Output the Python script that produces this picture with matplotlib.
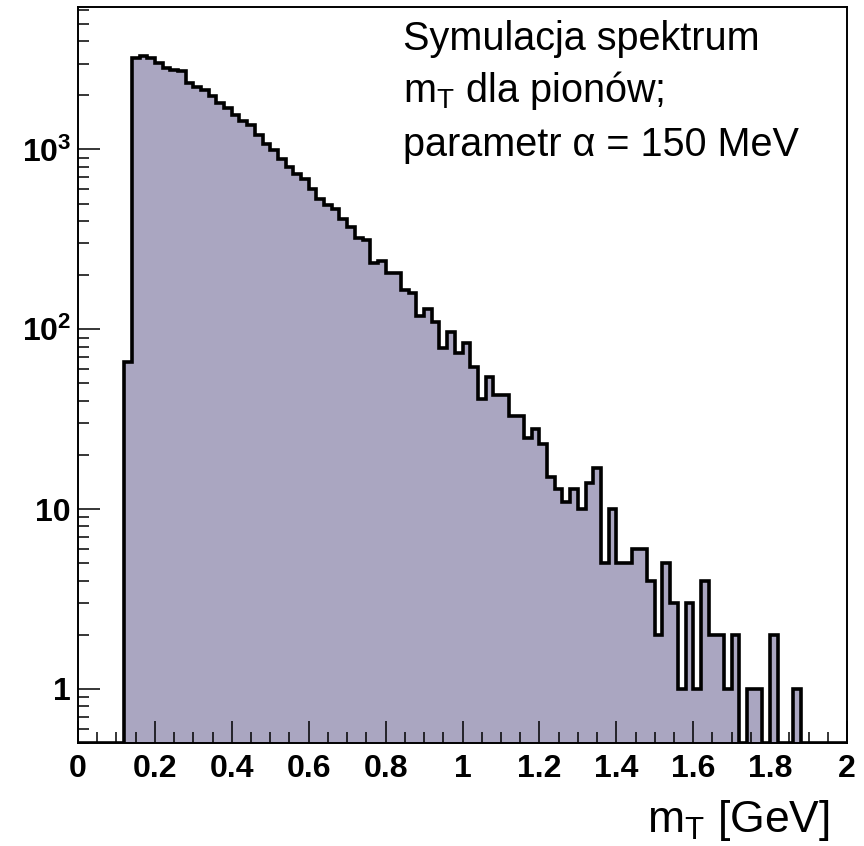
import numpy as np
import matplotlib
matplotlib.use("Agg")
import matplotlib.pyplot as plt
from matplotlib import font_manager
from matplotlib.ticker import FixedLocator, MultipleLocator, LogLocator, NullFormatter, FixedFormatter

# ---- data -------------------------------------------------------------
x_min, x_max, n_bins = 0.0, 2.0, 100
counts = [0, 0, 0, 0, 0, 0,
          66, 3230, 3300, 3230, 3030, 2850, 2780, 2720, 2350, 2230,
          2150, 1980, 1820, 1700, 1560, 1440, 1360, 1200, 1067, 994,
          889, 800, 726, 681, 599, 533, 490, 469, 413, 371,
          323, 313, 235, 239, 206, 206, 165, 160, 119, 129,
          110, 79, 96, 74, 84, 62, 41, 54, 43, 43,
          33, 33, 25, 28, 23, 15, 13, 11, 13, 10,
          14, 17, 5, 10, 5, 5, 6, 6, 4, 2,
          5, 3, 1, 3, 1, 4, 2, 2, 1, 2,
          0, 1, 1, 0, 2, 0, 0, 1,
          0, 0, 0, 0, 0, 0]
x_tick_values = [0, 0.2, 0.4, 0.6, 0.8, 1.0, 1.2, 1.4, 1.6, 1.8, 2.0]
x_tick_labels = ["0", "0.2", "0.4", "0.6", "0.8", "1", "1.2", "1.4", "1.6", "1.8", "2"]
y_tick_values = [1, 10, 100, 1000]
y_tick_labels = ["1", "10", "10$^{\\mathbf{2}}$", "10$^{\\mathbf{3}}$"]
legend_lines = ["Symulacja spektrum", "m$_{\\mathrm{T}}$ dla pionów;", "parametr α = 150 MeV"]
x_title = "m$_{\\mathrm{T}}$ [GeV]"

# ---- style ------------------------------------------------------------
names = {f.name for f in font_manager.fontManager.ttflist}
narrow = 'Liberation Sans Narrow' if 'Liberation Sans Narrow' in names else 'Liberation Sans'

plt.rcParams['font.family'] = ['Liberation Sans', 'DejaVu Sans']
plt.rcParams['mathtext.fontset'] = 'custom'
plt.rcParams['mathtext.rm'] = 'Liberation Sans'
plt.rcParams['mathtext.it'] = 'Liberation Sans:italic'
plt.rcParams['mathtext.bf'] = narrow + ':bold'

W, H = 864, 846
fig = plt.figure(figsize=(W / 100, H / 100), dpi=100)
left, right, top, bottom = 78, 847, 7, 743
ax = fig.add_axes([left / W, 1 - bottom / H, (right - left) / W, (bottom - top) / H])

ymin, ymax = 0.5, 6200
edges = np.linspace(x_min, x_max, n_bins + 1)
vals = np.maximum(np.array(counts, dtype=float), ymin)

ax.set_yscale('log')
ax.stairs(vals, edges, baseline=ymin, fill=True, color='#aaa6c1', lw=0)
ax.stairs(vals, edges, baseline=ymin, fill=False, color='black', lw=2.6)

ax.set_xlim(x_min, x_max)
ax.set_ylim(ymin, ymax)

ax.xaxis.set_major_locator(FixedLocator(x_tick_values))
ax.xaxis.set_major_formatter(FixedFormatter(x_tick_labels))
ax.xaxis.set_minor_locator(MultipleLocator(0.05))
ax.yaxis.set_major_locator(FixedLocator(y_tick_values))
ax.yaxis.set_major_formatter(FixedFormatter(y_tick_labels))
ax.yaxis.set_minor_locator(LogLocator(base=10, subs=np.arange(2, 10), numticks=30))
ax.yaxis.set_minor_formatter(NullFormatter())

ax.tick_params(which='both', direction='in', top=False, right=False, width=1.1, color='black')
ax.tick_params(which='major', length=16)
ax.tick_params(which='minor', length=8)
ax.tick_params(axis='x', which='major', pad=8)
ax.tick_params(axis='y', which='major', pad=5)
fsz = 26 if narrow != 'Liberation Sans' else 23
for lab in ax.get_xticklabels() + ax.get_yticklabels():
    lab.set_fontsize(fsz)
    lab.set_fontweight('bold')
    lab.set_family([narrow, 'Liberation Sans', 'DejaVu Sans'])

for sp in ax.spines.values():
    sp.set_linewidth(1.4)
    sp.set_color('black')
ax.set_zorder(1)

# legend text
baselines = [50, 102, 156]
for txt, yb in zip(legend_lines, baselines):
    fig.text(403 / W, 1 - yb / H, txt, fontsize=28.5, va='baseline', ha='left', color='black')

# x axis title
fig.text(830 / W, 1 - 832 / H, x_title, fontsize=32, va='baseline', ha='right', color='black')

fig.savefig('out.png', dpi=100)
